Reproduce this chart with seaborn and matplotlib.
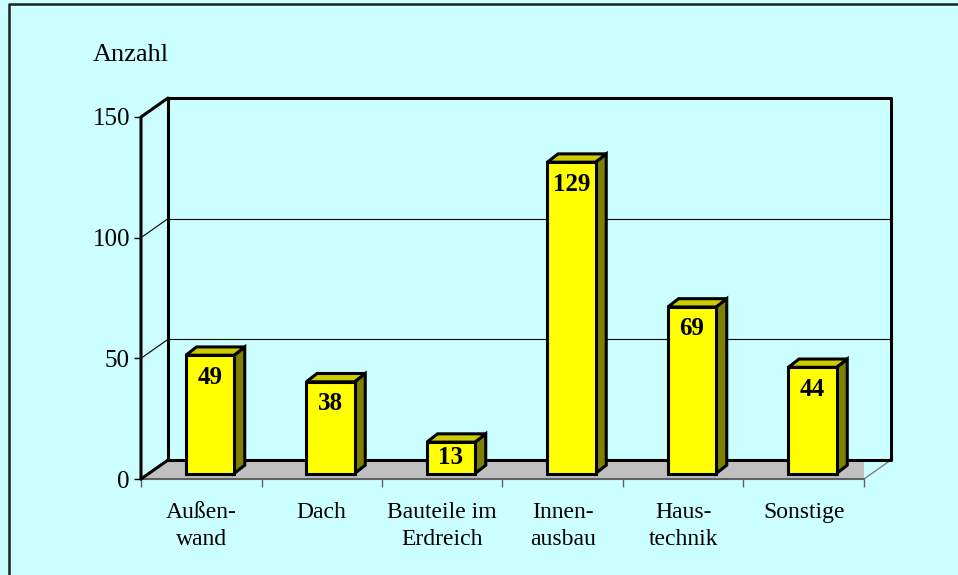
import numpy as np
import pandas as pd
import seaborn as sns
import matplotlib.pyplot as plt
from matplotlib.patches import Polygon
from matplotlib.lines import Line2D

# Daten
kategorien = ['Außen-\nwand', 'Dach', 'Bauteile im\nErdreich', 'Innen-\nausbau', 'Haus-\ntechnik', 'Sonstige']
anzahl = [49, 38, 13, 129, 69, 44]
y_ticks = [0, 50, 100, 150]

df = pd.DataFrame({'kategorie': kategorien, 'anzahl': anzahl})

sns.set_style('white')
plt.rcParams['font.family'] = ['Liberation Serif', 'DejaVu Serif']
plt.rcParams['text.color'] = 'black'
plt.rcParams['xtick.labelcolor'] = 'black'
plt.rcParams['ytick.labelcolor'] = 'black'

bg = '#CCFFFF'
fig = plt.figure(figsize=(9.58, 5.75), dpi=100, facecolor=bg)
# Vorderebene der Achse (Pixel: x 141..864, y 117..479)
ax = fig.add_axes([141 / 958, (575 - 479) / 575, 723 / 958, 362 / 575])
ax.set_facecolor('none')

sns.barplot(data=df, x='kategorie', y='anzahl', color='#FFFF00', width=0.4,
            edgecolor='black', linewidth=2.2, saturation=1, ax=ax, zorder=5)

ax.set_xlim(-0.5, len(kategorien) - 0.5)
ax.set_ylim(0, 150)
for s in ax.spines.values():
    s.set_visible(False)

fig.canvas.draw()
p0 = ax.transData.transform((0, 0))
p1 = ax.transData.transform((1, 1))
ppx, ppy = p1 - p0  # Pixel pro Einheit


def px(dx, dy):
    return dx / ppx, dy / ppy


# 3D Tiefe der Wand und der Balken (in Pixel)
wdx, wdy = px(27, 19)
bdx, bdy = px(8.7, 5.5)
sdx, sdy = px(10.7, 8.3)
x0, x1 = -0.5, len(kategorien) - 0.5

# Boden
ax.add_patch(Polygon([(x0, 0), (x1, 0), (x1 + wdx, wdy), (x0 + wdx, wdy)],
                     closed=True, facecolor='#C0C0C0', edgecolor='none', zorder=1))
ax.plot([x1, x1 + wdx], [0, wdy], color='#808080', lw=1, zorder=2, clip_on=False)
ax.plot([x0, x1], [0, 0], color='#606060', lw=1.5, zorder=2, clip_on=False)

# Rückwand mit Gitterlinien
for t in y_ticks[1:-1]:
    ax.plot([x0 + wdx, x1 + wdx], [t + wdy, t + wdy], color='black', lw=0.8, zorder=2, clip_on=False)
    ax.plot([x0, x0 + wdx], [t, t + wdy], color='black', lw=0.8, zorder=2, clip_on=False)
ax.plot([x0 + wdx, x1 + wdx, x1 + wdx, x0 + wdx, x0 + wdx],
        [wdy, wdy, 150 + wdy, 150 + wdy, wdy], color='black', lw=2.2, zorder=2, clip_on=False)
# Linke Seitenwand
ax.plot([x0, x0, x0 + wdx], [0, 150, 150 + wdy], color='black', lw=2.2, zorder=2, clip_on=False)
ax.plot([x0, x0 + wdx], [0, wdy], color='black', lw=2.2, zorder=2, clip_on=False)

# Balken verschieben und 3D Flächen ergänzen
for bar, wert in zip(ax.patches[:len(anzahl)], anzahl):
    bx = bar.get_x() + bdx
    bw = bar.get_width()
    bh = bar.get_height()
    bar.set_x(bx)
    bar.set_y(bdy)
    top = bdy + bh
    ax.add_patch(Polygon([(bx + bw, bdy), (bx + bw + sdx, bdy + sdy), (bx + bw + sdx, top + sdy), (bx + bw, top)],
                         closed=True, facecolor='#808000', edgecolor='black', lw=2.2, zorder=4))
    ax.add_patch(Polygon([(bx, top), (bx + sdx, top + sdy), (bx + bw + sdx, top + sdy), (bx + bw, top)],
                         closed=True, facecolor='#CCCC00', edgecolor='black', lw=2.2, zorder=4))
    off = min(22, bh * ppy / 2)
    ax.text(bx + bw / 2, top - off / ppy, str(wert), ha='center', va='center',
            fontsize=18, fontweight='bold', color='black', zorder=6)

# Achsen
ax.set_yticks(y_ticks)
ax.set_yticklabels([str(t) for t in y_ticks], fontsize=18)
ax.tick_params(axis='y', left=True, length=5, width=1, color='black', pad=3)
ax.set_xticks(range(len(kategorien)))
ax.set_xticklabels(kategorien, fontsize=17, linespacing=1.4)
ax.tick_params(axis='x', bottom=False, pad=13)
ax.set_xticks(np.arange(x0, x1 + 0.01, 1), minor=True)
ax.tick_params(axis='x', which='minor', bottom=True, length=6, width=1, color='#606060')
ax.set_xlabel('')
ax.set_ylabel('')

fig.text(93 / 958, 1 - 55 / 575, 'Anzahl', fontsize=19, ha='left', va='center')

# Rahmen
fig.add_artist(Line2D([9 / 958, 9 / 958, 1], [0, 1 - 4 / 575, 1 - 4 / 575],
                      transform=fig.transFigure, color='#202020', lw=1.8))

fig.savefig('out.png', dpi=100, facecolor=bg)
